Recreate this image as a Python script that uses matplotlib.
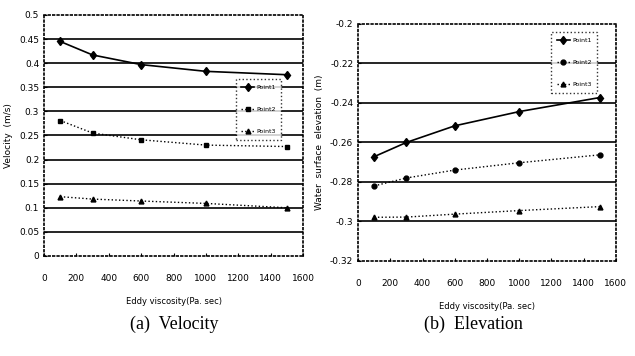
import numpy as np
import matplotlib
matplotlib.use('Agg')
import matplotlib.pyplot as plt

eddy = [100, 300, 600, 1000, 1500]

# velocity (m/s)
vel_p1 = [0.445, 0.417, 0.397, 0.383, 0.376]
vel_p2 = [0.281, 0.255, 0.241, 0.230, 0.227]
vel_p3 = [0.123, 0.118, 0.114, 0.109, 0.100]

# water surface elevation (m)
elev_p1 = [-0.2672, -0.2600, -0.2516, -0.2444, -0.2373]
elev_p2 = [-0.2820, -0.2780, -0.2740, -0.2703, -0.2663]
elev_p3 = [-0.2979, -0.2978, -0.2963, -0.2945, -0.2925]

labels = ['Point1', 'Point2', 'Point3']
x_ticks = list(range(0, 1601, 200))
vel_ticks = [0, 0.05, 0.1, 0.15, 0.2, 0.25, 0.3, 0.35, 0.4, 0.45, 0.5]
vel_ticklabels = ['0', '0.05', '0.1', '0.15', '0.2', '0.25', '0.3', '0.35', '0.4', '0.45', '0.5']
elev_ticks = [-0.32, -0.3, -0.28, -0.26, -0.24, -0.22, -0.2]
elev_ticklabels = ['-0.32', '-0.3', '-0.28', '-0.26', '-0.24', '-0.22', '-0.2']

fig = plt.figure(figsize=(6.35, 3.56), dpi=100)
ax1 = fig.add_axes([0.0693, 0.281, 0.408, 0.677])
ax2 = fig.add_axes([0.564, 0.267, 0.406, 0.666])


def style_axis(ax, yticks, yticklabels, ylabel):
    ax.set_xlim(0, 1600)
    ax.set_xticks(x_ticks)
    ax.set_xticklabels([str(t) for t in x_ticks])
    ax.set_ylim(yticks[0], yticks[-1])
    ax.set_yticks(yticks)
    ax.set_yticklabels(yticklabels)
    for t in yticks[1:-1]:
        ax.axhline(t, color='black', lw=1.2, zorder=1)
    for s in ax.spines.values():
        s.set_linestyle(':')
        s.set_linewidth(1.2)
    ax.tick_params(axis='both', labelsize=6.5, length=2, width=0.8, direction='in')
    ax.tick_params(axis='x', pad=13)
    ax.set_xlabel('Eddy viscosity(Pa. sec)', fontsize=6, labelpad=10)
    ax.set_ylabel(ylabel, fontsize=6.5, labelpad=4)


def style_legend(leg):
    leg.get_frame().set_edgecolor('black')
    leg.get_frame().set_linestyle(':')
    leg.get_frame().set_linewidth(1.0)


style_axis(ax1, vel_ticks, vel_ticklabels, 'Velocity  (m/s)')
ax1.plot(eddy, vel_p1, '-', marker='d', color='black', lw=1.2, ms=4.5, label=labels[0], zorder=3)
ax1.plot(eddy, vel_p2, ':', marker='s', color='black', lw=1.0, ms=3.5, label=labels[1], zorder=3)
ax1.plot(eddy, vel_p3, ':', marker='^', color='black', lw=1.0, ms=3.5, label=labels[2], zorder=3)
leg1 = ax1.legend(loc='upper left', bbox_to_anchor=(0.74, 0.735), fontsize=4.5,
                  frameon=True, fancybox=False, labelspacing=2.7, handlelength=2.0,
                  borderpad=0.9, handletextpad=0.4, borderaxespad=0)
style_legend(leg1)

style_axis(ax2, elev_ticks, elev_ticklabels, 'Water  surface  elevation  (m)')
ax2.plot(eddy, elev_p1, '-', marker='d', color='black', lw=1.2, ms=4.5, label=labels[0], zorder=3)
ax2.plot(eddy, elev_p2, ':', marker='o', color='black', lw=1.0, ms=3.5, label=labels[1], zorder=3)
ax2.plot(eddy, elev_p3, ':', marker='^', color='black', lw=1.0, ms=3.5, label=labels[2], zorder=3)
leg2 = ax2.legend(loc='upper left', bbox_to_anchor=(0.75, 0.966), fontsize=4.5,
                  frameon=True, fancybox=False, labelspacing=2.7, handlelength=2.0,
                  borderpad=0.9, handletextpad=0.4, borderaxespad=0)
style_legend(leg2)

fig.text(0.275, 0.075, '(a)  Velocity', family='Liberation Serif', fontsize=13, ha='center')
fig.text(0.745, 0.075, '(b)  Elevation', family='Liberation Serif', fontsize=13, ha='center')

fig.savefig('out.png', dpi=100)
